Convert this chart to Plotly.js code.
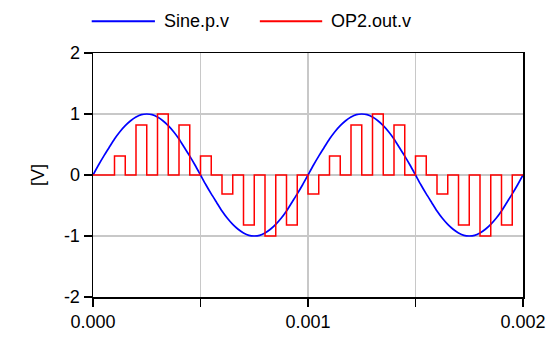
<!DOCTYPE html>
<html>
<head>
<meta charset="utf-8">
<script src="https://cdn.plot.ly/plotly-3.0.1.min.js"></script>
<style>html,body{margin:0;padding:0;background:#fff;}#chart{width:556px;height:337px;}</style>
</head>
<body>
<div id="chart"></div>
<script>
// Sine.p.v — sampled every 0.025 ms (time in ms)
var sineTimeMs = [0,0.025,0.05,0.075,0.1,0.125,0.15,0.175,0.2,0.225,0.25,0.275,0.3,0.325,0.35,0.375,0.4,0.425,0.45,0.475,
  0.5,0.525,0.55,0.575,0.6,0.625,0.65,0.675,0.7,0.725,0.75,0.775,0.8,0.825,0.85,0.875,0.9,0.925,0.95,0.975,
  1.0,1.025,1.05,1.075,1.1,1.125,1.15,1.175,1.2,1.225,1.25,1.275,1.3,1.325,1.35,1.375,1.4,1.425,1.45,1.475,
  1.5,1.525,1.55,1.575,1.6,1.625,1.65,1.675,1.7,1.725,1.75,1.775,1.8,1.825,1.85,1.875,1.9,1.925,1.95,1.975,2.0];
var sineValues = [0,0.16,0.31,0.45,0.59,0.71,0.81,0.89,0.95,0.99,1.00,0.99,0.95,0.89,0.81,0.71,0.59,0.45,0.31,0.16,
  0,-0.16,-0.31,-0.45,-0.59,-0.71,-0.81,-0.89,-0.95,-0.99,-1.00,-0.99,-0.95,-0.89,-0.81,-0.71,-0.59,-0.45,-0.31,-0.16,
  0,0.16,0.31,0.45,0.59,0.71,0.81,0.89,0.95,0.99,1.00,0.99,0.95,0.89,0.81,0.71,0.59,0.45,0.31,0.16,
  0,-0.16,-0.31,-0.45,-0.59,-0.71,-0.81,-0.89,-0.95,-0.99,-1.00,-0.99,-0.95,-0.89,-0.81,-0.71,-0.59,-0.45,-0.31,-0.16,0];

// OP2.out.v — step signal, value held until next time (ms)
var opTimeMs = [0,0.1,0.15,0.2,0.25,0.3,0.35,0.4,0.45,0.5,0.55,0.6,0.65,0.7,0.75,0.8,0.85,0.9,0.95,
  1.0,1.05,1.1,1.15,1.2,1.25,1.3,1.35,1.4,1.45,1.5,1.55,1.6,1.65,1.7,1.75,1.8,1.85,1.9,1.95,2.0];
var opValues = [0,0.31,0,0.82,0,1.0,0,0.82,0,0.31,0,-0.31,0,-0.82,0,-1.0,0,-0.82,0,
  -0.31,0,0.31,0,0.82,0,1.0,0,0.82,0,0.31,0,-0.31,0,-0.82,0,-1.0,0,-0.82,0,0];

var seriesNames = ['Sine.p.v', 'OP2.out.v'];
var seriesColors = ['#0000ff', '#ff0000'];
var xTickVals = [0, 0.0005, 0.001, 0.0015, 0.002];
var xTickText = ['0.000', '', '0.001', '', '0.002'];
var yTickVals = [-2, -1, 0, 1, 2];
var yTickText = ['-2', '-1', '0', '1', '2'];

function toSec(a){ return a.map(function(v){ return v / 1000; }); }

var FONT = 'Liberation Sans, Arial, sans-serif';

var traces = [
  {x: toSec(sineTimeMs), y: sineValues, name: seriesNames[0], type: 'scatter', mode: 'lines',
   line: {color: seriesColors[0], width: 1.7, shape: 'spline', smoothing: 0.6}},
  {x: toSec(opTimeMs), y: opValues, name: seriesNames[1], type: 'scatter', mode: 'lines',
   line: {color: seriesColors[1], width: 1.5, shape: 'hv'}}
];

var axisCommon = {
  showline: true, linecolor: '#000', linewidth: 1.5, mirror: true,
  ticks: 'outside', ticklen: 8, tickcolor: '#000', tickwidth: 1.5,
  showgrid: true, gridcolor: '#c8c8c8', gridwidth: 1.5, zeroline: false,
  tickfont: {family: FONT, size: 18, color: '#000'}
};

// Legend drawn as key lines + labels above the plot (paper coordinates)
var legendY = 1.13;
var legendItems = [
  {x0: -0.003, x1: 0.144, tx: 0.160},
  {x0: 0.388, x1: 0.533, tx: 0.549}
];
var shapes = legendItems.map(function(it, i){
  return {type: 'line', xref: 'paper', yref: 'paper', x0: it.x0, x1: it.x1, y0: legendY, y1: legendY,
    line: {color: seriesColors[i], width: 2}};
});
var annotations = legendItems.map(function(it, i){
  return {xref: 'paper', yref: 'paper', x: it.tx, y: legendY, xanchor: 'left', yanchor: 'middle',
    text: seriesNames[i], showarrow: false, font: {family: FONT, size: 18, color: '#000'}};
});

var layout = {
  width: 556, height: 337,
  margin: {l: 93, r: 33, t: 53, b: 40},
  paper_bgcolor: '#fff', plot_bgcolor: '#fff',
  showlegend: false,
  shapes: shapes,
  annotations: annotations,
  xaxis: Object.assign({}, axisCommon, {range: [0, 0.002], tickmode: 'array', tickvals: xTickVals, ticktext: xTickText}),
  yaxis: Object.assign({}, axisCommon, {range: [-2, 2], tickmode: 'array', tickvals: yTickVals, ticktext: yTickText,
    title: {text: '[V]', font: {family: FONT, size: 18, color: '#000'}, standoff: 14}})
};

Plotly.newPlot('chart', traces, layout, {displayModeBar: false, staticPlot: true});
</script>
</body>
</html>
